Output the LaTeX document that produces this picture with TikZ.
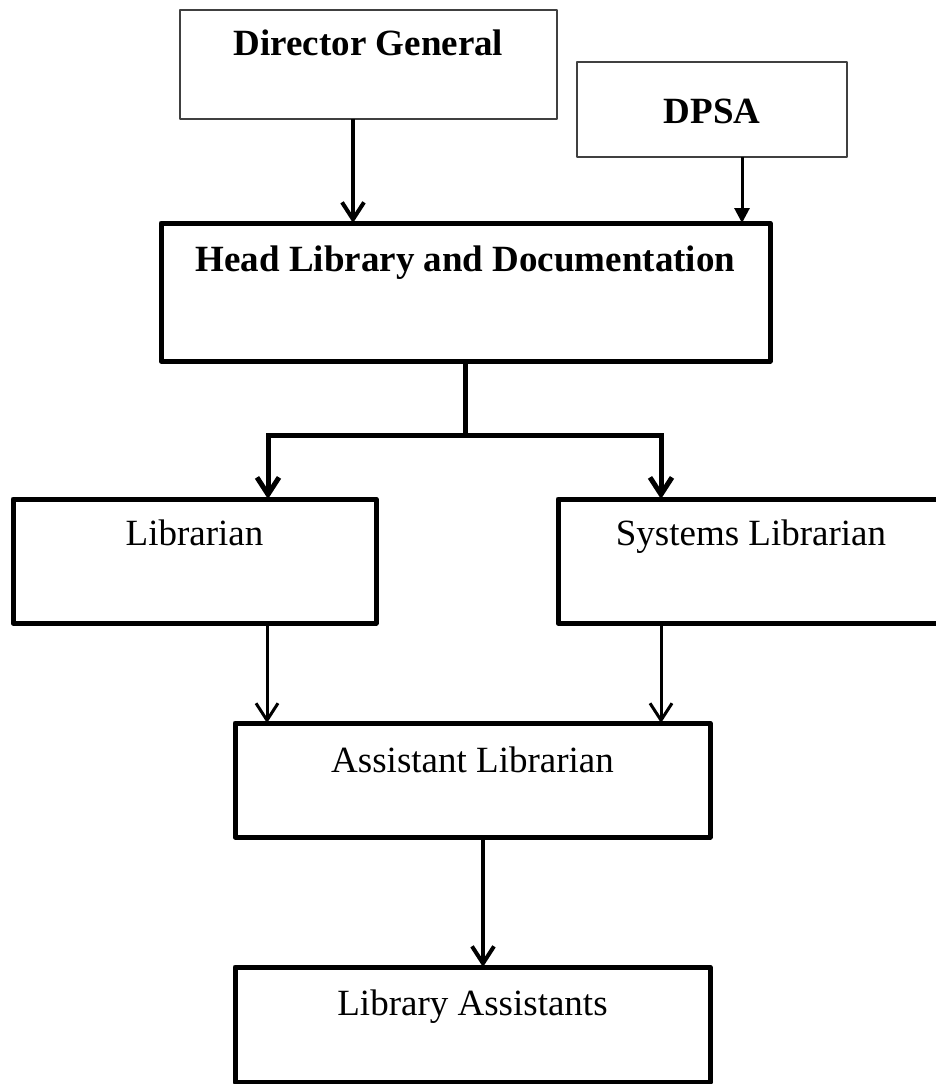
\documentclass[tikz,border=0pt]{standalone}
\usepackage{fontspec}
\setmainfont{Liberation Serif}
\usetikzlibrary{arrows.meta}

\begin{document}
\begin{tikzpicture}[
  x=1pt, y=-1pt,
  font=\fontsize{37}{44}\selectfont,
  box/.style={rectangle, draw=black, line width=5pt, line join=round,
              inner sep=0pt, outer sep=0pt, anchor=north},
  topbox/.style={box, draw=black!75, line width=1.5pt, font=\fontsize{37}{44}\selectfont\bfseries},
  link/.style={draw=black, line width=5pt},
  arr/.style={-{Straight Barb[length=17pt, width=22pt]}, draw=black, line width=3.5pt},
  tri/.style={-{Triangle[length=15pt, width=15pt]}, draw=black, line width=3pt}
]
\useasboundingbox (0,0) rectangle (936,1084);

% top row
\node[topbox, minimum width=377pt, text height=45pt, text depth=64pt] (dg) at (368.5,10) {Director General};
\node[topbox, minimum width=270pt, text height=61pt, text depth=34pt] (dpsa) at (712,62) {DPSA};

% head box
\node[box, font=\fontsize{37}{44}\selectfont\bfseries, minimum width=609pt,
      text height=48pt, text depth=90pt] (head) at (465.5,223) {Head Library and Documentation};

\draw[arr, line width=4pt] ([xshift=-15.5pt]dg.south) -- ([xshift=-15.5pt]dg.south |- head.north);
\draw[tri] ([xshift=30pt]dpsa.south) -- ([xshift=30pt]dpsa.south |- head.north);

% second row
\node[box, minimum width=363pt, text height=46pt, text depth=78pt] (lib) at (194.5,499) {Librarian};
\node[box, minimum width=386pt, text height=46pt, text depth=78pt] (syslib) at (751,499) {Systems Librarian};

% split under head
\coordinate (split) at ([yshift=-74pt]head.south);
\draw[link] (head.south) -- (split);
\draw[link, arr, line width=5pt] (split) -| ([xshift=73.5pt]lib.north);
\draw[link, arr, line width=5pt] (split) -| ([xshift=-90pt]syslib.north);

% assistant librarian
\node[box, minimum width=475pt, text height=49pt, text depth=65pt] (asst) at (472.5,723) {Assistant Librarian};

\draw[arr, line width=3pt] ([xshift=72.5pt]lib.south) -- ([xshift=72.5pt]lib.south |- asst.north);
\draw[arr, line width=3pt] ([xshift=-90pt]syslib.south) -- ([xshift=-90pt]syslib.south |- asst.north);

% library assistants
\node[box, minimum width=475pt, text height=48pt, text depth=67pt] (libasst) at (472.5,967) {Library Assistants};

\draw[arr, line width=4pt] ([xshift=10.5pt]asst.south) -- ([xshift=10.5pt]asst.south |- libasst.north);
\end{tikzpicture}
\end{document}
